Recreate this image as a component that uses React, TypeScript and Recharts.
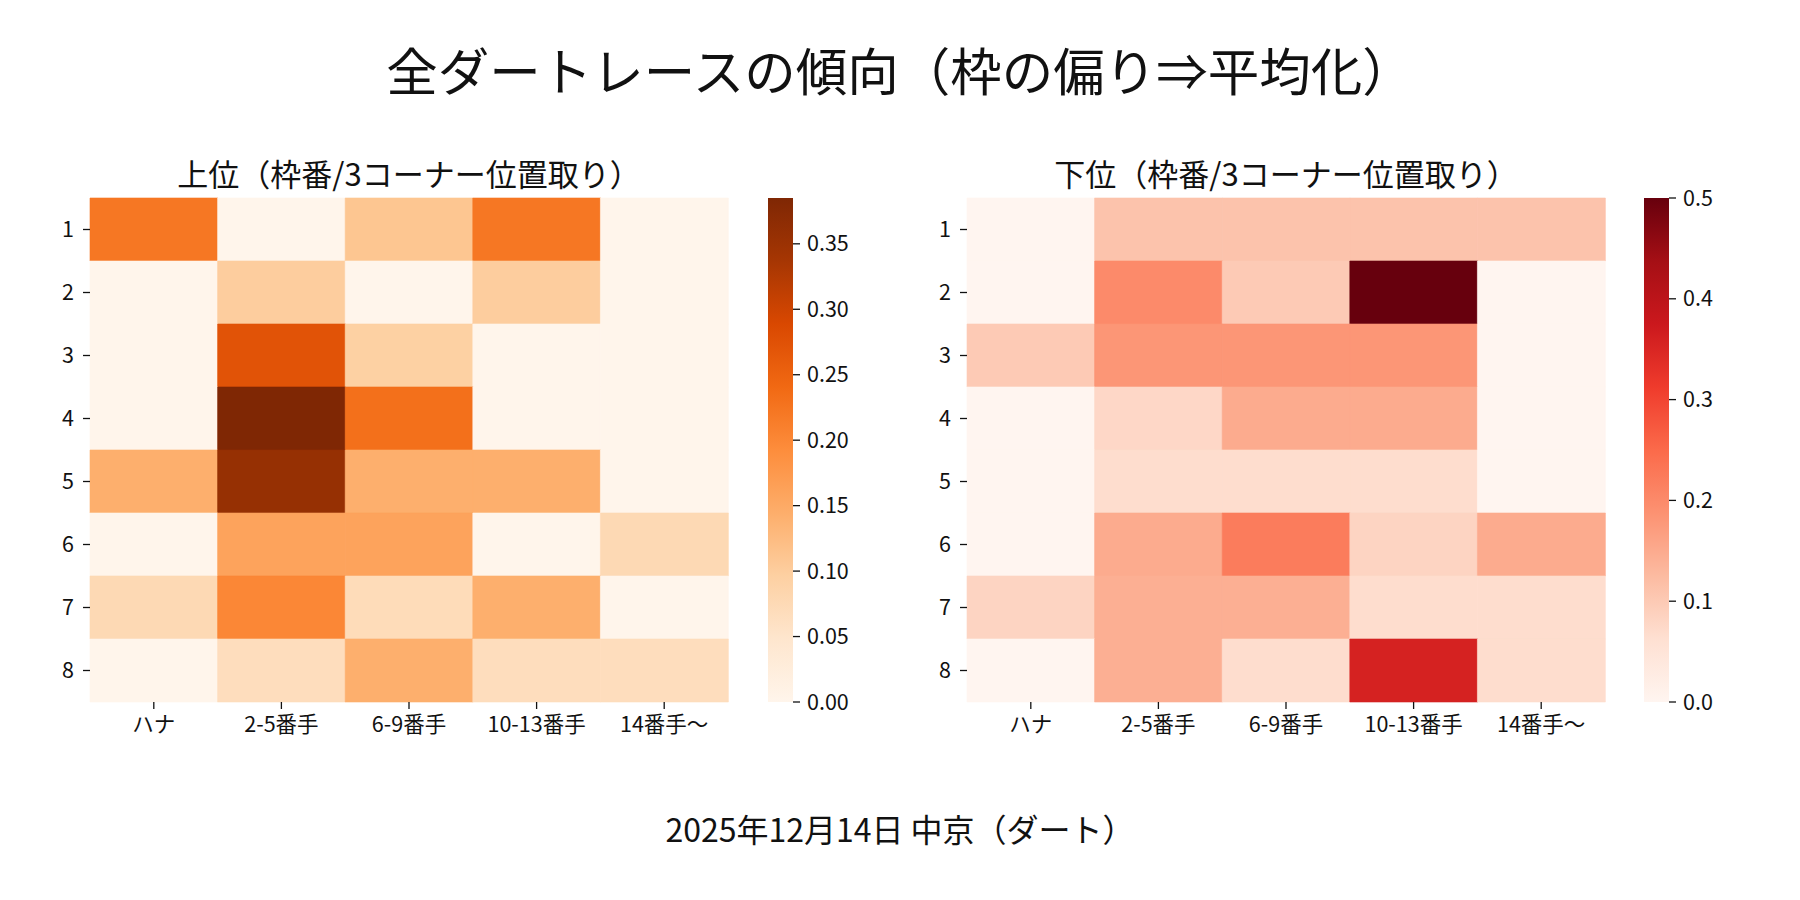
import React from 'react';
import { BarChart, Bar, XAxis, YAxis, Cell } from 'recharts';

// columns = 3コーナー位置取り, rows = 枠番
const COLS = ['ハナ', '2-5番手', '6-9番手', '10-13番手', '14番手〜'];
const ROWS = ['1', '2', '3', '4', '5', '6', '7', '8'];

// 上位
const TOP_VALUES = [
  [0.222, 0, 0.111, 0.222, 0],
  [0, 0.1, 0, 0.1, 0],
  [0, 0.273, 0.095, 0, 0],
  [0, 0.385, 0.231, 0, 0],
  [0.143, 0.357, 0.143, 0.143, 0],
  [0, 0.16, 0.16, 0, 0.077],
  [0.077, 0.2, 0.071, 0.143, 0],
  [0, 0.067, 0.143, 0.067, 0.067],
];

// 下位
const BOTTOM_VALUES = [
  [0, 0.111, 0.111, 0.111, 0.111],
  [0, 0.2, 0.1, 0.5, 0],
  [0.1, 0.182, 0.182, 0.182, 0],
  [0, 0.077, 0.15, 0.15, 0],
  [0, 0.067, 0.067, 0.067, 0],
  [0, 0.15, 0.222, 0.083, 0.15],
  [0.083, 0.143, 0.143, 0.067, 0.067],
  [0, 0.143, 0.067, 0.357, 0.067],
];

const TOP_TICKS = [0, 0.05, 0.1, 0.15, 0.2, 0.25, 0.3, 0.35];
const BOTTOM_TICKS = [0, 0.1, 0.2, 0.3, 0.4, 0.5];

const ORANGES = ['#fff5eb', '#fee6ce', '#fdd0a2', '#fdae6b', '#fd8d3c', '#f16913', '#d94801', '#a63603', '#7f2704'];
const REDS = ['#fff5f0', '#fee0d2', '#fcbba1', '#fc9272', '#fb6a4a', '#ef3b2c', '#cb181d', '#a50f15', '#67000d'];

const TEXT = '#111';
const FONT = "'Noto Sans CJK JP', 'Noto Sans', sans-serif";
const TICK_FONT = 21.5;

function colorAt(stops: string[], t: number) {
  const c = Math.max(0, Math.min(1, t)) * (stops.length - 1);
  const i = Math.min(stops.length - 2, Math.floor(c));
  const f = c - i;
  const a = parseInt(stops[i].slice(1), 16);
  const b = parseInt(stops[i + 1].slice(1), 16);
  const ch = (s: number) => Math.round(((a >> s) & 255) * (1 - f) + ((b >> s) & 255) * f);
  return `rgb(${ch(16)},${ch(8)},${ch(0)})`;
}

function Heatmap({ values, stops, left }: { values: number[][]; stops: string[]; left: number }) {
  const vmax = Math.max(...values.flat());
  // one stacked segment per 枠番, each a single cell tall
  const data = COLS.map((col) => {
    const row: Record<string, string | number> = { col };
    ROWS.forEach((_, ri) => { row['r' + ri] = 1; });
    return row;
  });

  return (
    <div style={{ position: 'absolute', left, top: 0 }}>
      <BarChart width={760} height={760} data={data} margin={{ top: 198, right: 32, left: 0, bottom: 0 }} barCategoryGap={0}>
        <XAxis
          dataKey="col"
          height={58}
          interval={0}
          axisLine={false}
          tickSize={7}
          tickMargin={8}
          tickLine={{ stroke: TEXT, strokeWidth: 1.3 }}
          tick={{ fontSize: TICK_FONT, fill: TEXT }}
        />
        <YAxis
          type="number"
          domain={[0, ROWS.length]}
          reversed
          ticks={ROWS.map((_, i) => i + 0.5)}
          tickFormatter={(v: number) => ROWS[Math.floor(v)]}
          interval={0}
          width={90}
          axisLine={false}
          tickSize={7}
          tickMargin={9}
          tickLine={{ stroke: TEXT, strokeWidth: 1.3 }}
          tick={{ fontSize: TICK_FONT, fill: TEXT }}
        />
        {ROWS.map((r, ri) => (
          <Bar key={r} dataKey={'r' + ri} stackId="cells" isAnimationActive={false}>
            {COLS.map((c, ci) => {
              const fill = colorAt(stops, values[ri][ci] / vmax);
              return <Cell key={c} fill={fill} stroke={fill} strokeWidth={0.6} />;
            })}
          </Bar>
        ))}
      </BarChart>
    </div>
  );
}

function ColorBar({ id, values, stops, ticks, digits, left }: {
  id: string; values: number[][]; stops: string[]; ticks: number[]; digits: number; left: number;
}) {
  const vmax = Math.max(...values.flat());
  return (
    <div style={{ position: 'absolute', left, top: 0 }}>
      <BarChart width={100} height={760} data={[{ k: 'cb', v: vmax }]} margin={{ top: 198, right: 0, left: 0, bottom: 58 }} barCategoryGap={0}>
        <defs>
          <linearGradient id={id} x1="0" y1="1" x2="0" y2="0">
            {stops.map((c, i) => <stop key={i} offset={i / (stops.length - 1)} stopColor={c} />)}
          </linearGradient>
        </defs>
        <XAxis dataKey="k" hide />
        <YAxis
          orientation="right"
          type="number"
          domain={[0, vmax]}
          ticks={ticks}
          interval={0}
          tickFormatter={(v: number) => v.toFixed(digits)}
          width={75}
          axisLine={false}
          tickSize={7}
          tickMargin={7}
          tickLine={{ stroke: TEXT, strokeWidth: 1.3 }}
          tick={{ fontSize: TICK_FONT, fill: TEXT }}
        />
        <Bar dataKey="v" fill={`url(#${id})`} isAnimationActive={false} />
      </BarChart>
    </div>
  );
}

export default function App() {
  return (
    <div style={{ position: 'absolute', left: 0, top: 0, width: 1800, height: 900, background: '#fff', fontFamily: FONT }}>
      <Heatmap values={TOP_VALUES} stops={ORANGES} left={0} />
      <ColorBar id="cbTop" values={TOP_VALUES} stops={ORANGES} ticks={TOP_TICKS} digits={2} left={768} />
      <Heatmap values={BOTTOM_VALUES} stops={REDS} left={877} />
      <ColorBar id="cbBottom" values={BOTTOM_VALUES} stops={REDS} ticks={BOTTOM_TICKS} digits={1} left={1644} />
      <svg width={1800} height={900} style={{ position: 'absolute', left: 0, top: 0, pointerEvents: 'none' }}>
        <text x={900} y={91} textAnchor="middle" fontSize={51.5} fill={TEXT}>全ダートレースの傾向（枠の偏り⇒平均化）</text>
        <text x={409} y={186} textAnchor="middle" fontSize={31} fill={TEXT}>上位（枠番/3コーナー位置取り）</text>
        <text x={1286} y={186} textAnchor="middle" fontSize={31} fill={TEXT}>下位（枠番/3コーナー位置取り）</text>
        <text x={900} y={842} textAnchor="middle" fontSize={32} fill={TEXT}>2025年12月14日 中京（ダート）</text>
      </svg>
    </div>
  );
}
